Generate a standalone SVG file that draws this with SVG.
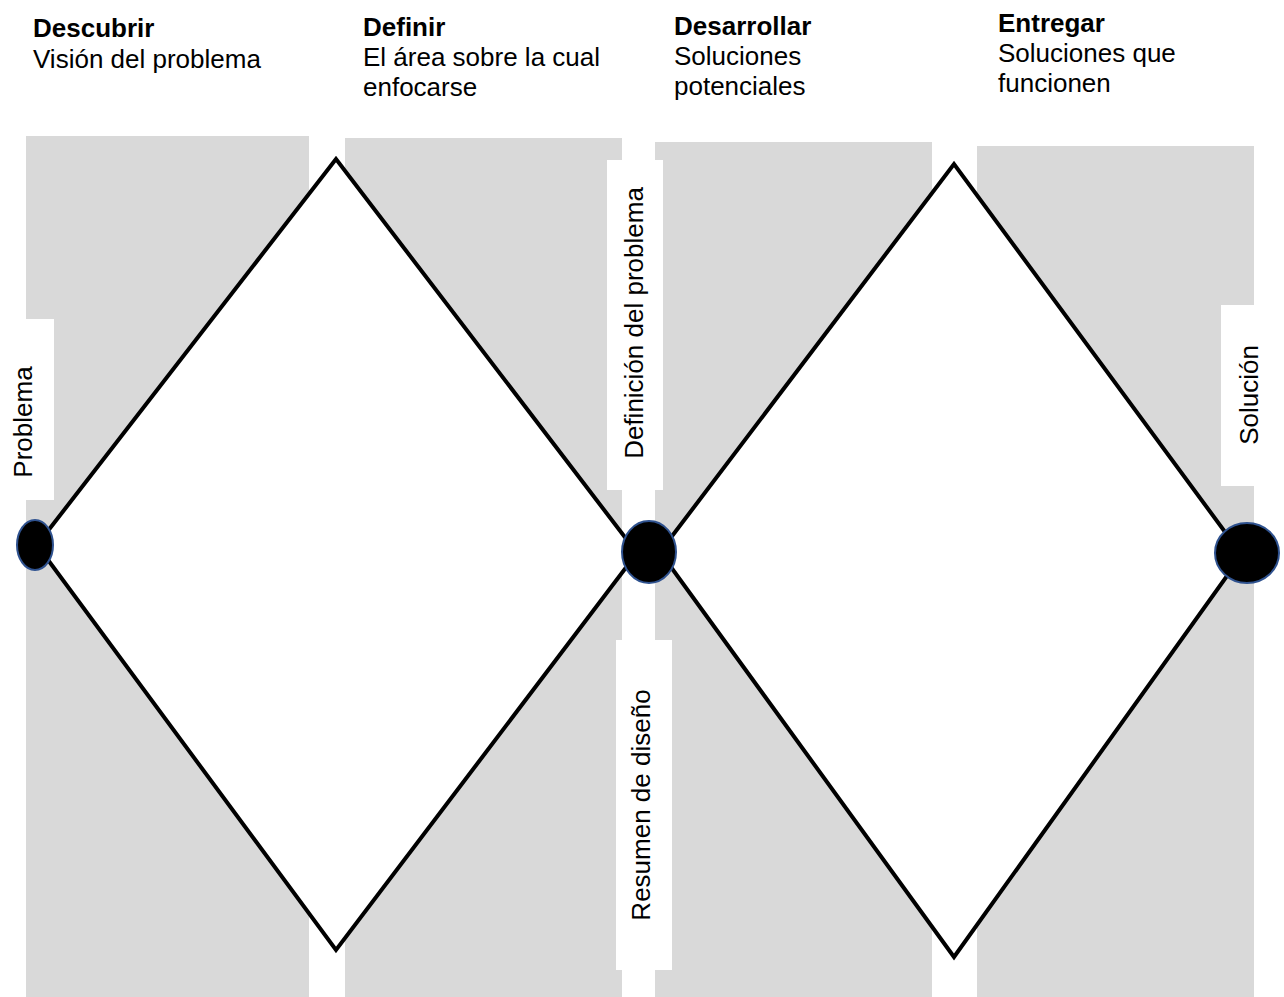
<svg xmlns="http://www.w3.org/2000/svg" width="1284" height="997" viewBox="0 0 1284 997">
<style>
.bg{fill:#d9d9d9}
.lbl{fill:#ffffff}
.t{font-family:"Liberation Sans",Arial,sans-serif;font-size:26px;fill:#000}
.b{font-weight:bold}
.dia{fill:#ffffff;stroke:#000;stroke-width:4;stroke-linejoin:miter}
.dot{fill:#000;stroke:#2f528f;stroke-width:2}
</style>
<rect width="1284" height="997" fill="#ffffff"/>
<g id="columns">
<rect class="bg" x="26" y="136" width="283" height="861"/>
<rect class="bg" x="345" y="138" width="277" height="859"/>
<rect class="bg" x="655" y="142" width="277" height="855"/>
<rect class="bg" x="977" y="146" width="277" height="851"/>
</g>
<g id="headings">
<text class="t" x="33" y="37"><tspan class="b">Descubrir</tspan><tspan x="33" y="68">Visión del problema</tspan></text>
<text class="t" x="363" y="36"><tspan class="b">Definir</tspan><tspan x="363" y="66">El área sobre la cual</tspan><tspan x="363" y="96">enfocarse</tspan></text>
<text class="t" x="674" y="35"><tspan class="b">Desarrollar</tspan><tspan x="674" y="65">Soluciones</tspan><tspan x="674" y="95">potenciales</tspan></text>
<text class="t" x="998" y="32"><tspan class="b">Entregar</tspan><tspan x="998" y="62">Soluciones que</tspan><tspan x="998" y="92">funcionen</tspan></text>
</g>
<g id="connectors">
<polygon id="diamond-1" class="dia" points="37,545 336,159 637,553 336,950"/>
<polygon id="diamond-2" class="dia" points="660,552 954,164 1242,555 954,957"/>
</g>
<g id="label-problema">
<rect class="lbl" x="0" y="319" width="54" height="181"/>
<text class="t" transform="translate(32,422) rotate(-90)" text-anchor="middle">Problema</text>
</g>
<g id="label-definicion">
<rect class="lbl" x="607" y="160" width="56" height="330"/>
<text class="t" transform="translate(643,323) rotate(-90)" text-anchor="middle">Definición del problema</text>
</g>
<g id="label-resumen">
<rect class="lbl" x="616" y="640" width="56" height="330"/>
<text class="t" transform="translate(650,805) rotate(-90)" text-anchor="middle">Resumen de diseño</text>
</g>
<g id="label-solucion">
<rect class="lbl" x="1221" y="305" width="50" height="181"/>
<text class="t" transform="translate(1258,395) rotate(-90)" text-anchor="middle">Solución</text>
</g>
<g id="node-problema"><ellipse class="dot" cx="35" cy="545" rx="18" ry="25"/></g>
<g id="node-definicion"><ellipse class="dot" cx="649" cy="552" rx="27" ry="31"/></g>
<g id="node-solucion"><ellipse class="dot" cx="1247" cy="553" rx="32" ry="30"/></g>
</svg>
